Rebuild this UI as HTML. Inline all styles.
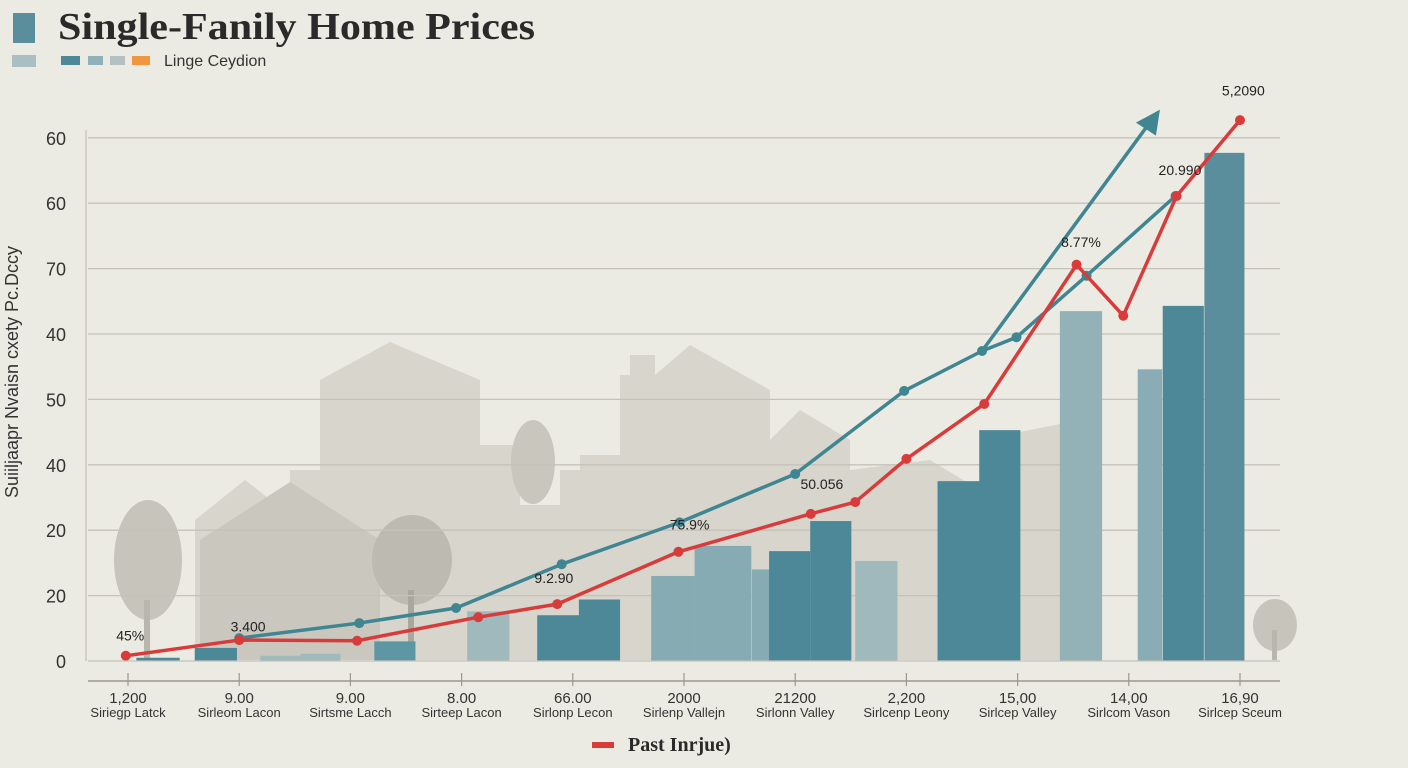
<!DOCTYPE html>
<html><head><meta charset="utf-8"><style>
body{margin:0;background:#ecebe3;}
svg{display:block;font-family:"Liberation Sans",sans-serif;}
</style></head><body>
<svg width="1408" height="768" viewBox="0 0 1408 768">
<rect width="1408" height="768" fill="#ecebe3"/>
<g id="bg" fill="#d3d1c8">
 <polygon points="195,660 195,520 245,480 290,515 290,470 320,470 320,380 390,342 480,380 480,445 520,445 520,505 560,505 560,470 580,470 580,455 620,455 620,375 630,375 630,355 655,355 655,375 690,345 770,390 770,440 800,410 850,440 850,470 930,460 980,490 980,440 1080,420 1080,660" opacity="0.85"/>
 <polygon points="200,660 200,540 290,482 380,540 380,660" fill="#c9c7be"/>
 <ellipse cx="148" cy="560" rx="34" ry="60" fill="#c6c4bb"/>
 <rect x="144" y="600" width="6" height="60" fill="#b8b6ad"/>
 <ellipse cx="412" cy="560" rx="40" ry="45" fill="#bdbab1"/>
 <rect x="408" y="590" width="6" height="70" fill="#aaa79f"/>
 <ellipse cx="533" cy="462" rx="22" ry="42" fill="#c8c6bd"/>
 <ellipse cx="1275" cy="625" rx="22" ry="26" fill="#c6c4bb"/>
 <rect x="1272" y="630" width="5" height="30" fill="#b8b6ad"/>
</g>
<g id="grid"></g>
<g id="bars"></g>
<g id="lines"></g>
<g id="axes"></g>
<rect x="13" y="13" width="22" height="30" fill="#5a8e9c"/>
<text x="58" y="39" font-family="Liberation Serif,serif" font-weight="bold" font-size="38" textLength="477" lengthAdjust="spacingAndGlyphs" fill="#2a2a2a">Single-Fanily Home Prices</text>
<g>
 <rect x="12" y="55" width="24" height="12" fill="#a9bfc4"/>
 <rect x="61" y="56" width="19" height="9" fill="#4d8898"/>
 <rect x="88" y="56" width="15" height="9" fill="#8fb1ba"/>
 <rect x="110" y="56" width="15" height="9" fill="#b3c1c2"/>
 <rect x="132" y="56" width="18" height="9" fill="#f0963e"/>
 <text x="164" y="66" font-size="16" fill="#333">Linge Ceydion</text>
</g>
<text transform="translate(18,372) rotate(-90)" text-anchor="middle" font-size="18" fill="#333">Suiiljaapr Nvaisn cxety Pc.Dccy</text>
<g>
 <rect x="592" y="742" width="22" height="6" fill="#d93b3b"/>
 <text x="628" y="751" font-family="Liberation Serif,serif" font-weight="bold" font-size="20" fill="#2a2a2a">Past Inrjue)</text>
</g>
<g id="labels" font-size="14" fill="#222"></g>
</svg>
<script>
const yTickLabels=["0","20","20","40","50","40","70","60","60"];
const categories=["Siriegp Latck","Sirleom Lacon","Sirtsme Lacch","Sirteep Lacon","Sirlonp Lecon","Sirlenp Vallejn","Sirlonn Valley","Sirlcenp Leony","Sirlcep Valley","Sirlcom Vason","Sirlcep Sceum"];
const xTickLabels=["1,200","9.00","9.00","8.00","66.00","2000","21200","2,200","15,00","14,00","16,90"];
const tealPos=[1.0,2.08,2.95,3.9,4.96,6.0,6.98,7.68,7.99,8.62,9.42];
const tealVals=[3.5,5.8,8.1,14.8,21.2,28.6,41.3,47.4,49.5,58.9,71.1];
const redPos=[-0.02,1.0,2.06,3.15,3.86,4.95,6.14,6.54,7.0,7.7,8.53,8.95,9.43,10.0];
const redVals=[0.8,3.2,3.1,6.7,8.7,16.7,22.5,24.3,30.9,39.3,60.6,52.8,71.1,82.7];
const barPos=[0.27,0.79,1.37,1.73,2.40,3.24,3.87,4.24,4.90,5.35,5.69,5.95,6.32,6.73,7.47,7.84,8.57,9.19,9.49,9.86];
const barVals=[0.5,2.0,0.8,1.1,3.0,7.6,7.0,9.4,13.0,17.6,14.0,16.8,21.4,15.3,27.5,35.3,53.5,44.6,54.3,77.7];
const barWidths=[0.39,0.38,0.36,0.36,0.37,0.38,0.38,0.37,0.39,0.51,0.16,0.37,0.37,0.38,0.38,0.37,0.38,0.22,0.37,0.36];
const barColors=["#4d8898","#4d8898","#9fb9bd","#9fb9bd","#5f96a4","#9fb9bd","#4d8898","#4d8898","#86abb3","#86abb3","#86abb3","#4d8898","#4d8898","#9fb9bd","#4d8898","#4d8898","#93b2b8","#8aadb5","#4d8898","#5a8e9c"];
const labelTexts=["45%","3.400","9.2.90","75.9%","50.056","8.77%","20.990","5,2090"];
const labelPos=[0.02,1.08,3.83,5.05,6.24,8.57,9.46,10.03];
const labelVals=[3.1,4.5,11.9,20.1,26.3,63.3,74.3,86.5];
const NS="http://www.w3.org/2000/svg";
const x=i=>128+i*111.2;
const y=v=>661-v*6.54;
function mk(t,a,p){const e=document.createElementNS(NS,t);for(const k in a)e.setAttribute(k,a[k]);p.appendChild(e);return e;}
const grid=document.getElementById('grid'),axes=document.getElementById('axes');
yTickLabels.forEach((l,i)=>{
 if(i>0){const g=mk('line',{x1:88,x2:1280,y1:y(i*10),y2:y(i*10),stroke:'#c4c2b9','stroke-width':1.3},grid);
 
 }
 const t=mk('text',{x:66,y:y(i*10)+7,'text-anchor':'end','font-size':18,fill:'#333'},axes);t.textContent=l;
 
 
});
mk('line',{x1:86,x2:86,y1:130,y2:661,stroke:'#c4c2b9','stroke-width':1.3},axes);
const xa=mk('line',{x1:88,x2:1280,y1:681,y2:681,stroke:'#9a9890','stroke-width':1.5},axes);


mk('line',{x1:88,x2:1280,y1:661,y2:661,stroke:'#c4c2b9','stroke-width':1.3},axes);
categories.forEach((c,i)=>{
 mk('line',{x1:x(i),x2:x(i),y1:673,y2:686,stroke:'#9a9890','stroke-width':1.2},axes);
 const t=mk('text',{x:x(i),y:703,'text-anchor':'middle','font-size':15,fill:'#333'},axes);t.textContent=xTickLabels[i];
 
 
 const t2=mk('text',{x:x(i),y:717,'text-anchor':'middle','font-size':13,fill:'#333'},axes);t2.textContent=c;
 
 
});
const bars=document.getElementById('bars');
barVals.forEach((v,i)=>{
 const w=barWidths[i]*111.2;
 const r=mk('rect',{x:x(barPos[i])-w/2,y:y(v),width:w,height:661-y(v),fill:barColors[i]},bars);
 
 
});
const lines=document.getElementById('lines');
function series(pos,vals,col,name){
 const p=mk('polyline',{points:pos.map((q,i)=>x(q)+','+y(vals[i])).join(' '),fill:'none',stroke:col,'stroke-width':3.5,'stroke-linejoin':'round'},lines);
 
 
 pos.forEach((q,i)=>{const c=mk('circle',{cx:x(q),cy:y(vals[i]),r:5,fill:col},lines);
 
 });
}
series(tealPos,tealVals,'#3f8592','teal');
const a0=7.68,av0=47.4,a1=9.28,av1=84.3;
const ar=mk('line',{x1:x(a0),y1:y(av0),x2:x(a1)-8,y2:y(av1)+10,stroke:'#3f8592','stroke-width':3.5},lines);


const hx=x(a1),hy=y(av1);
const ah=mk('polygon',{points:`${hx},${hy} ${hx-24},${hy+13} ${hx-4},${hy+26}`,fill:'#3f8592'},lines);


series(redPos,redVals,'#d93b3b','red');
const lab=document.getElementById('labels');
labelTexts.forEach((s,i)=>{const t=mk('text',{x:x(labelPos[i]),y:y(labelVals[i]),'text-anchor':'middle'},lab);t.textContent=s;
 
 });
</script>
</body></html>
